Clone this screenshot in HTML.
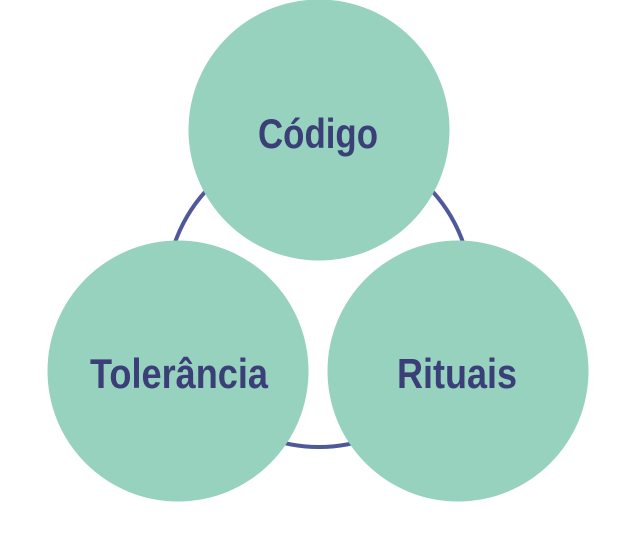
<!DOCTYPE html>
<html><head><meta charset="utf-8"><style>
html,body{margin:0;padding:0;background:#fff;width:637px;height:550px;overflow:hidden}
text{font-family:"Liberation Sans",sans-serif;font-weight:bold;fill:#3b3f78;font-size:42px}
</style></head><body>
<svg width="637" height="550" viewBox="0 0 637 550">
<circle cx="319" cy="294" r="153" fill="none" stroke="#4f5899" stroke-width="4"/>
<circle cx="319" cy="130" r="130.5" fill="#97d2bf"/>
<circle cx="178" cy="371" r="130.5" fill="#97d2bf"/>
<circle cx="458" cy="371" r="130.5" fill="#97d2bf"/>
<text x="318" y="148" text-anchor="middle" textLength="120" lengthAdjust="spacingAndGlyphs">Código</text>
<text x="179" y="388" text-anchor="middle" textLength="178" lengthAdjust="spacingAndGlyphs">Tolerância</text>
<text x="457" y="388" text-anchor="middle" textLength="120" lengthAdjust="spacingAndGlyphs">Rituais</text>
</svg>
</body></html>
